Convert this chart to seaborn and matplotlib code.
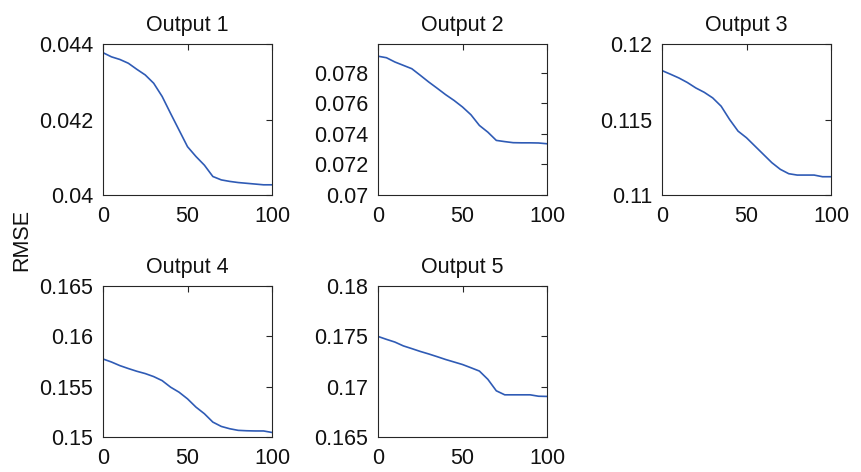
import matplotlib
matplotlib.use("Agg")
import matplotlib.pyplot as plt
import seaborn as sns
import pandas as pd

iterations = [0, 5, 10, 15, 20, 25, 30, 35, 40, 45, 50, 55, 60, 65, 70, 75, 80, 85, 90, 95, 100]

output1 = [0.04377, 0.04366, 0.04359, 0.04349, 0.04333, 0.04318, 0.04296, 0.04261, 0.04216,
           0.04172, 0.04128, 0.04102, 0.04079, 0.04049, 0.04040, 0.04036, 0.04033, 0.04031,
           0.04029, 0.04027, 0.04027]
output2 = [0.0791, 0.0790, 0.07872, 0.07850, 0.07828, 0.07785, 0.07741, 0.07700, 0.07658,
           0.07620, 0.07577, 0.07526, 0.07456, 0.07412, 0.07358, 0.07350, 0.07343, 0.07342,
           0.07342, 0.07341, 0.07336]
output3 = [0.11824, 0.11800, 0.11775, 0.11745, 0.11709, 0.11680, 0.11643, 0.11588, 0.11500,
           0.11423, 0.11379, 0.11324, 0.11269, 0.11214, 0.11170, 0.11141, 0.11132, 0.11132,
           0.11132, 0.11121, 0.11121]
output4 = [0.15775, 0.15745, 0.15709, 0.15680, 0.15653, 0.15630, 0.15600, 0.15560, 0.15495,
           0.15445, 0.15379, 0.15297, 0.15231, 0.15148, 0.15105, 0.15082, 0.15066, 0.15062,
           0.15060, 0.15060, 0.15045]
output5 = [0.17499, 0.17470, 0.17443, 0.17405, 0.17378, 0.17350, 0.17325, 0.17298, 0.17270,
           0.17245, 0.17220, 0.17188, 0.17155, 0.17073, 0.16959, 0.16919, 0.16919, 0.16919,
           0.16919, 0.16905, 0.16903]

titles = ["Output 1", "Output 2", "Output 3", "Output 4", "Output 5"]
series = [output1, output2, output3, output4, output5]
ylims = [(0.04, 0.044), (0.07, 0.0799), (0.11, 0.12), (0.15, 0.165), (0.165, 0.18)]
yticks = [[0.04, 0.042, 0.044],
          [0.07, 0.072, 0.074, 0.076, 0.078],
          [0.11, 0.115, 0.12],
          [0.15, 0.155, 0.16, 0.165],
          [0.165, 0.17, 0.175, 0.18]]
yticklabels = [["0.04", "0.042", "0.044"],
               ["0.07", "0.072", "0.074", "0.076", "0.078"],
               ["0.11", "0.115", "0.12"],
               ["0.15", "0.155", "0.16", "0.165"],
               ["0.165", "0.17", "0.175", "0.18"]]
xticks = [0, 50, 100]

sns.set_style("white")
plt.rcParams["font.family"] = ["Liberation Sans", "DejaVu Sans"]

W, H = 861, 472
fig = plt.figure(figsize=(W / 100, H / 100), dpi=100)

lefts = [103, 378, 662, 103, 378]
bottoms = [195, 195, 195, 437, 437]
aw, ah = 169, 151
color = "#2f5bb5"

for i in range(5):
    ax = fig.add_axes([lefts[i] / W, 1 - bottoms[i] / H, aw / W, ah / H])
    df = pd.DataFrame({"iter": iterations, "rmse": series[i]})
    sns.lineplot(data=df, x="iter", y="rmse", ax=ax, color=color, linewidth=1.2)
    ax.set_xlim(0, 100)
    ax.set_ylim(*ylims[i])
    ax.set_xticks(xticks)
    ax.set_xticklabels([str(t) for t in xticks])
    ax.set_yticks(yticks[i])
    ax.set_yticklabels(yticklabels[i])
    ax.set_xlabel("")
    ax.set_ylabel("")
    ax.set_title(titles[i], fontsize=15.5, pad=9, color="#111111")
    ax.tick_params(direction="in", top=True, right=True, length=4, width=0.8,
                   labelsize=15.5, color="#262626", labelcolor="#111111")
    ax.tick_params(axis="x", pad=8)
    ax.tick_params(axis="y", pad=7)
    for s in ax.spines.values():
        s.set_color("#262626")
        s.set_linewidth(0.8)

fig.text(22 / W, 1 - 240 / H, "RMSE", rotation=90, fontsize=15.5, ha="center", va="center",
         color="#111111")

fig.savefig("out.png", dpi=100)
